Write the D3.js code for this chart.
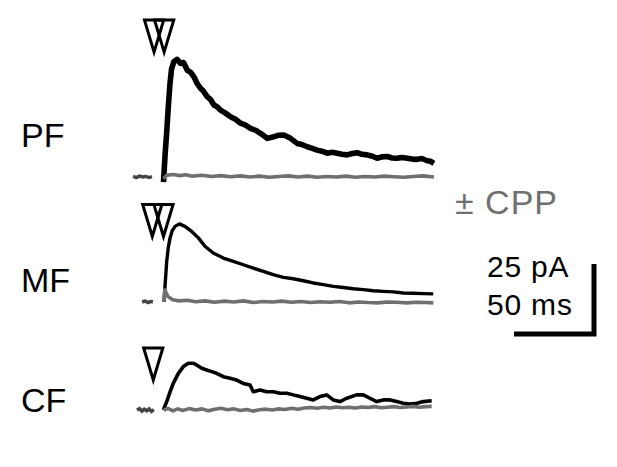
<!DOCTYPE html>
<html>
<head>
    <meta charset="utf-8">
    <script src="https://d3js.org/d3.v7.min.js"></script>
    <style>
        body { margin: 0; background: #fff; }
        svg { display: block; }
        text { font-family: "Liberation Sans", Arial, sans-serif; }
    </style>
</head>
<body>
    <svg width="617" height="467"></svg>
<script>

    // traces: [time (ms, 0 = stimulus), current (pA, inward plotted up)]
    const pfCtrl = [[0,-1.8],[1,8],[2,16],[3,25],[4,33],[5,38.5],[6.5,41.2],[8.5,42],[10.6,40.6],[12.5,40.9],[14.8,38.2],[17,37.4],[19,35.8],[21,33.4],[23.1,31.7],[25,30.6],[27.3,28.7],[29.5,27.6],[31.5,25.7],[33.5,25.1],[35.6,23.9],[38.5,22.9],[41.9,21.5],[45,20.6],[48.1,19.2],[51,18.6],[54.4,17.4],[57.5,16.7],[60.6,15.6],[64.8,13.8],[69,14.4],[72,14.9],[75.2,15],[79.4,13.8],[83.5,12],[86.5,11.6],[89.8,10.8],[93,10.2],[96,9.6],[99,9.2],[102.3,8.5],[105.5,8.8],[108.5,8.5],[111.5,8.1],[114.8,7.9],[118,8.4],[121,8.7],[124,8.1],[127.3,7.9],[130.5,7.4],[133.5,6.7],[136.5,7.2],[139.8,7.3],[143,6.8],[146,6.7],[149,7.0],[152.3,6.7],[155.5,6.4],[158.5,6.3],[161.5,6.6],[164.8,5.8],[167,5.6],[169,4.9]];
    const pfCpp = [[0,-0.6],[2,0.6],[6,0.9],[10,0.5],[14,0.8],[18,0.3],[24,0.6],[30,0.2],[36,0.5],[42,0.1],[48,0.4],[54,0.0],[60,0.3],[66,-0.1],[72,0.2],[78,0.4],[84,0.0],[90,0.3],[96,-0.1],[102,0.2],[108,0.0],[114,0.3],[120,-0.1],[126,0.2],[132,0.0],[138,0.3],[144,0.1],[150,-0.1],[156,0.2],[162,0.4],[169,0.0]];
    const pfPre = [[-19,0.2],[-17,-0.2],[-15,0.3],[-13,0],[-11,0.2],[-9,-0.2],[-7.2,0.1]];

    const mfCtrl = [[0.3,0],[1,6],[2,14.5],[3,19.5],[4.1,22.9],[5.5,25.5],[7.2,27],[9.9,27.9],[13.4,27],[17.6,25.2],[21.8,22.9],[25.9,19.9],[31.1,17.5],[37.4,15.7],[43.6,14.5],[49.9,13.3],[56.1,12.1],[62.4,10.9],[68.6,9.75],[74.9,8.8],[81.1,8.3],[87.4,7.6],[93.6,6.8],[99.9,6.2],[106.1,5.6],[112.4,5.2],[118.6,4.75],[124.9,4.4],[131.1,4.0],[137.4,3.8],[143.6,3.6],[149.9,3.2],[156.1,3.1],[162.4,3.0],[168.6,2.9]];
    const mfCpp = [[0.3,0],[0.8,4.4],[2.7,2.0],[5.8,0.8],[9.9,0.4],[15,0.6],[20,0.1],[26,0.4],[32,-0.1],[38,0.3],[44,0.0],[50,0.4],[56,-0.2],[62,0.2],[68,0.0],[74,0.3],[80,-0.1],[86,0.2],[92,-0.2],[98,0.1],[104,-0.1],[110,0.2],[116,-0.3],[122,0.0],[128,-0.2],[134,-0.3],[140,0.0],[146,-0.1],[152,-0.3],[158,-0.1],[164,-0.2],[168.6,-0.3]];
    const mfPre = [[-13.4,0],[-11.5,0.3],[-9.5,-0.2],[-8,0.2],[-6.6,0]];

    const cfCtrl = [[-0.1,0],[2,3],[4.1,6.5],[6.1,9.5],[9.3,13.1],[12.4,15.5],[15.5,16.7],[18.6,16.7],[20.7,16.1],[23.9,14.9],[27,14.3],[30.1,13.7],[33.2,13.1],[37.4,11.9],[41.6,11.3],[45.7,10.7],[49.9,9.5],[54.1,8.9],[56.1,6.5],[60.3,7.1],[64.5,6.5],[68.6,6.5],[72.8,6.0],[77,6.0],[81.1,5.4],[85.3,4.8],[89.5,4.2],[93.6,3.6],[97.8,4.8],[102,5.4],[106.1,3.6],[110.3,3.0],[114.5,4.2],[120.7,5.4],[124.9,5.4],[129,4.2],[133.2,3.0],[137.4,3.6],[141.6,3.6],[145.7,3.0],[149.9,2.4],[154.1,2.1],[158.3,2.4],[162.4,3.0],[167.6,3.3]];
    const cfCpp = [[0,0],[3,0.5],[6,-0.3],[9,0.4],[12,-0.2],[16,0.5],[20,0],[24,0.4],[28,-0.3],[32,0.3],[36,0.6],[40,0.1],[44,0.4],[48,-0.2],[52,0.2],[56,-0.4],[60,0.1],[64,0.3],[68,0.0],[72,0.4],[76,0.2],[80,0.6],[84,0.3],[88,0.7],[92,0.9],[96,0.6],[100,1.0],[104,0.7],[108,1.1],[112,0.8],[116,1.0],[120,0.7],[124,1.1],[128,0.9],[132,1.2],[136,0.8],[140,1.0],[144,1.2],[148,0.9],[152,1.1],[156,1.3],[160,1.0],[164,1.2],[167.6,1.3]];
    const cfPre = [[-16.6,0],[-15,0.5],[-13.5,-0.4],[-12,0.3],[-10.5,-0.3],[-9,0.4],[-7.5,-0.5],[-6,0.1]];

    // stimulus times (ms)
    const pfStim = [-5.9, 0.4];
    const mfStim = [-7, 0];
    const cfStim = [-6.4];

    const panelNames = ['PF', 'MF', 'CF'];
    const scaleBar = { ms: 50, pA: 25 };

    const svg = d3.select('svg');
    const black = '#000';
    const gray = '#6f6f6f';

    // time scale shared by all panels
    const xScale = d3.scaleLinear().domain([0, 50]).range([163.5, 243.5]);

    const panels = [
        { name: 'PF', base: 177, ctrl: pfCtrl, cpp: pfCpp, pre: pfPre, stim: pfStim, tip: 44.6, ctrlW: 5.6, labelY: 147 },
        { name: 'MF', base: 302, ctrl: mfCtrl, cpp: mfCpp, pre: mfPre, stim: mfStim, tip: 23.4, ctrlW: 3.4, labelY: 292 },
        { name: 'CF', base: 410, ctrl: cfCtrl, cpp: cfCpp, pre: cfPre, stim: cfStim, tip: 10.7, ctrlW: 3.6, labelY: 412 }
    ];

    panels.forEach((p, i) => {
        let yScale = d3.scaleLinear().domain([0, 25]).range([p.base, p.base - 70]);
        let line = d3.line().x(d => xScale(d[0])).y(d => yScale(d[1]));

        let g = svg.append('g');

        g.append('path').datum(p.pre)
            .attr('d', line)
            .style('fill', 'none').style('stroke', '#444').style('stroke-width', 3.4);
        g.append('path').datum(p.ctrl)
            .attr('d', line)
            .style('fill', 'none').style('stroke', black)
            .style('stroke-width', p.ctrlW).style('stroke-linejoin', 'round');
        g.append('path').datum(p.cpp)
            .attr('d', line)
            .style('fill', 'none').style('stroke', gray)
            .style('stroke-width', 3.6).style('stroke-linejoin', 'round');

        // open stimulus triangles
        let tipY = yScale(p.tip);
        g.selectAll('.stim')
            .data(p.stim)
            .join('path')
            .attr('class', 'stim')
            .attr('d', d => {
                let x = xScale(d);
                return `M${x - 9.6},${tipY - 32}L${x + 9.6},${tipY - 32}L${x},${tipY}Z`;
            })
            .style('fill', 'none')
            .style('stroke', black)
            .style('stroke-width', 3)
            .style('stroke-linejoin', 'miter');

        svg.append('text')
            .attr('x', 21)
            .attr('y', p.labelY)
            .style('font-size', '34px')
            .style('fill', black)
            .text(panelNames[i]);
    });

    svg.append('text')
        .attr('x', 455).attr('y', 214)
        .style('font-size', '34px')
        .style('letter-spacing', '1px')
        .style('fill', gray)
        .text('± CPP');

    // scale bar, drawn with the same scales as the traces
    let barY = d3.scaleLinear().domain([0, 25]).range([334, 264]);
    let barX = 594;
    let barLen = xScale(scaleBar.ms) - xScale(0);
    svg.append('path')
        .attr('d', `M${barX},${barY(scaleBar.pA)}L${barX},${barY(0)}L${barX - barLen},${barY(0)}`)
        .style('fill', 'none')
        .style('stroke', black)
        .style('stroke-width', 5)
        .style('stroke-linejoin', 'miter');

    svg.append('text')
        .attr('x', 487).attr('y', 277)
        .style('font-size', '30px')
        .style('letter-spacing', '0.8px')
        .text(`${scaleBar.pA} pA`);
    svg.append('text')
        .attr('x', 487).attr('y', 315)
        .style('font-size', '30px')
        .style('letter-spacing', '0.8px')
        .text(`${scaleBar.ms} ms`);

</script>
</body>
</html>
